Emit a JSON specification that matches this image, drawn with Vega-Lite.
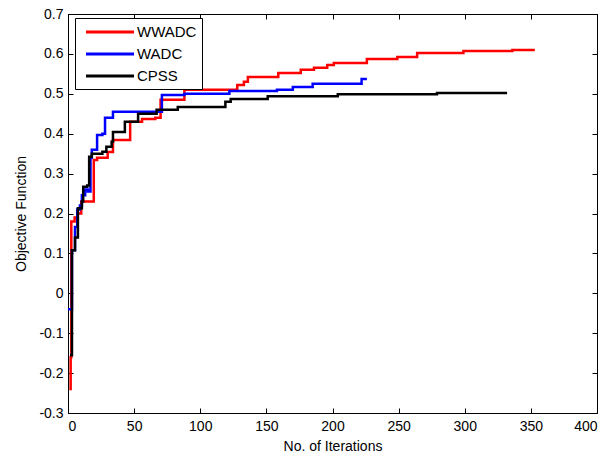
{
  "$schema": "https://vega.github.io/schema/vega-lite/v6.json",
  "autosize": {"type": "none"},
  "padding": {"left": 68, "top": 14, "right": 10, "bottom": 44},
  "width": 529,
  "height": 399,
  "background": "white",
  "config": {
    "font": "Liberation Sans",
    "view": {"stroke": "black", "strokeWidth": 1},
    "axis": {"grid": false, "domainColor": "black", "tickColor": "black", "labelColor": "black", "titleColor": "black", "labelFontSize": 14, "titleFontSize": 14, "titleFontWeight": "normal", "tickSize": -5, "labelPadding": 10}
  },
  "data": {"values": [
    {"s": "WWADC", "x": 1, "y": -0.24},
    {"s": "WWADC", "x": 2, "y": -0.16},
    {"s": "WWADC", "x": 2.5, "y": 0.18},
    {"s": "WWADC", "x": 5, "y": 0.19},
    {"s": "WWADC", "x": 7, "y": 0.2},
    {"s": "WWADC", "x": 10, "y": 0.23},
    {"s": "WWADC", "x": 19.5, "y": 0.334},
    {"s": "WWADC", "x": 22, "y": 0.34},
    {"s": "WWADC", "x": 30, "y": 0.354},
    {"s": "WWADC", "x": 34, "y": 0.384},
    {"s": "WWADC", "x": 47, "y": 0.43},
    {"s": "WWADC", "x": 56, "y": 0.437},
    {"s": "WWADC", "x": 66, "y": 0.44},
    {"s": "WWADC", "x": 70, "y": 0.485},
    {"s": "WWADC", "x": 88, "y": 0.51},
    {"s": "WWADC", "x": 128, "y": 0.522},
    {"s": "WWADC", "x": 133, "y": 0.53},
    {"s": "WWADC", "x": 136, "y": 0.542},
    {"s": "WWADC", "x": 159, "y": 0.552},
    {"s": "WWADC", "x": 176, "y": 0.56},
    {"s": "WWADC", "x": 186, "y": 0.565},
    {"s": "WWADC", "x": 196, "y": 0.572},
    {"s": "WWADC", "x": 201, "y": 0.577},
    {"s": "WWADC", "x": 226, "y": 0.587},
    {"s": "WWADC", "x": 249, "y": 0.592},
    {"s": "WWADC", "x": 264, "y": 0.602},
    {"s": "WWADC", "x": 299, "y": 0.607},
    {"s": "WWADC", "x": 336, "y": 0.61},
    {"s": "WWADC", "x": 353, "y": 0.61},
    {"s": "WADC", "x": 0, "y": -0.04},
    {"s": "WADC", "x": 3, "y": 0.108},
    {"s": "WADC", "x": 5.3, "y": 0.166},
    {"s": "WADC", "x": 7, "y": 0.21},
    {"s": "WADC", "x": 9, "y": 0.22},
    {"s": "WADC", "x": 10.5, "y": 0.246},
    {"s": "WADC", "x": 13, "y": 0.26},
    {"s": "WADC", "x": 15, "y": 0.255},
    {"s": "WADC", "x": 17, "y": 0.34},
    {"s": "WADC", "x": 18, "y": 0.36},
    {"s": "WADC", "x": 22, "y": 0.397},
    {"s": "WADC", "x": 26, "y": 0.4},
    {"s": "WADC", "x": 28, "y": 0.44},
    {"s": "WADC", "x": 34, "y": 0.455},
    {"s": "WADC", "x": 71, "y": 0.497},
    {"s": "WADC", "x": 88, "y": 0.5},
    {"s": "WADC", "x": 122, "y": 0.507},
    {"s": "WADC", "x": 158, "y": 0.51},
    {"s": "WADC", "x": 170, "y": 0.517},
    {"s": "WADC", "x": 185, "y": 0.525},
    {"s": "WADC", "x": 222, "y": 0.537},
    {"s": "WADC", "x": 226, "y": 0.537},
    {"s": "CPSS", "x": 1.5, "y": -0.155},
    {"s": "CPSS", "x": 3, "y": 0.108},
    {"s": "CPSS", "x": 5.3, "y": 0.14},
    {"s": "CPSS", "x": 7.5, "y": 0.213},
    {"s": "CPSS", "x": 10.5, "y": 0.23},
    {"s": "CPSS", "x": 11.5, "y": 0.267},
    {"s": "CPSS", "x": 14.5, "y": 0.27},
    {"s": "CPSS", "x": 16, "y": 0.342},
    {"s": "CPSS", "x": 18, "y": 0.35},
    {"s": "CPSS", "x": 26, "y": 0.355},
    {"s": "CPSS", "x": 29, "y": 0.367},
    {"s": "CPSS", "x": 33, "y": 0.38},
    {"s": "CPSS", "x": 34, "y": 0.404},
    {"s": "CPSS", "x": 43, "y": 0.43},
    {"s": "CPSS", "x": 53, "y": 0.45},
    {"s": "CPSS", "x": 67, "y": 0.46},
    {"s": "CPSS", "x": 83, "y": 0.467},
    {"s": "CPSS", "x": 119, "y": 0.48},
    {"s": "CPSS", "x": 123, "y": 0.487},
    {"s": "CPSS", "x": 151, "y": 0.494},
    {"s": "CPSS", "x": 204, "y": 0.499},
    {"s": "CPSS", "x": 279, "y": 0.502},
    {"s": "CPSS", "x": 332, "y": 0.502}
  ]},
  "layer": [
    {
      "mark": {"type": "line", "interpolate": "step-after", "strokeWidth": 2.5},
      "encoding": {
        "x": {"field": "x", "type": "quantitative", "scale": {"domain": [0, 400], "nice": false}, "axis": {"orient": "bottom", "values": [0, 50, 100, 150, 200, 250, 300, 350, 400], "title": "No. of Iterations", "titlePadding": 6, "labelPadding": 11, "labelFontSize": 14, "titleFontSize": 14}},
        "y": {"field": "y", "type": "quantitative", "scale": {"domain": [-0.3, 0.7], "nice": false, "zero": false}, "axis": {"orient": "left", "values": [-0.3, -0.2, -0.1, 0, 0.1, 0.2, 0.3, 0.4, 0.5, 0.6, 0.7], "labelExpr": "datum.value == 0 ? '0' : toString(round(datum.value*10)/10)", "title": "Objective Function", "titlePadding": 10, "labelFontSize": 14, "titleFontSize": 14}},
        "color": {"field": "s", "type": "nominal", "scale": {"domain": ["WWADC", "WADC", "CPSS"], "range": ["#ff0000", "#0000ff", "#000000"]},
          "legend": {"title": null, "orient": "none", "legendX": 7, "legendY": 4, "symbolType": "M-3.2,0H3.2", "symbolSize": 225, "symbolStrokeWidth": 3, "labelFontSize": 15, "strokeColor": "black", "fillColor": "white", "padding": 5, "rowPadding": 5, "symbolOffset": 21, "labelOffset": 18}},
        "order": {"field": "x", "type": "quantitative"}
      }
    },
    {
      "mark": {"type": "line", "strokeOpacity": 0},
      "encoding": {
        "x": {"field": "x", "type": "quantitative", "scale": {"domain": [0, 400], "nice": false}, "axis": {"orient": "top", "values": [0, 50, 100, 150, 200, 250, 300, 350, 400], "labels": false, "title": null}},
        "y": {"field": "y", "type": "quantitative", "scale": {"domain": [-0.3, 0.7], "nice": false, "zero": false}, "axis": {"orient": "right", "values": [-0.3, -0.2, -0.1, 0, 0.1, 0.2, 0.3, 0.4, 0.5, 0.6, 0.7], "labels": false, "title": null}},
        "detail": {"field": "s", "type": "nominal"}
      }
    }
  ],
  "resolve": {"axis": {"x": "independent", "y": "independent"}}
}
